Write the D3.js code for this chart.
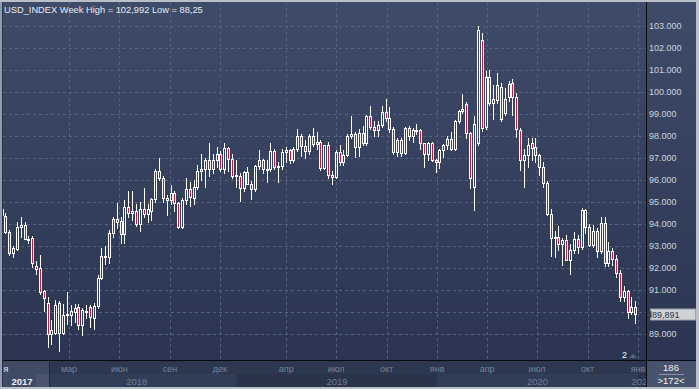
<!DOCTYPE html>
<html>
<head>
<meta charset="utf-8">
<script src="https://cdn.jsdelivr.net/npm/d3@7"></script>
<style>
    html, body { margin: 0; padding: 0; background: #b9c0ca; }
    svg { display: block; font-family: "Liberation Sans", Arial, sans-serif; }
</style>
</head>
<body>
<svg id="chart" width="699" height="389"></svg>
<script>
// Weekly bars (Monday of each week)
const weeks = [
    '2017-10-30','2017-11-06','2017-11-13','2017-11-20','2017-11-27','2017-12-04','2017-12-11','2017-12-18','2017-12-25',
    '2018-01-01','2018-01-08','2018-01-15','2018-01-22','2018-01-29','2018-02-05','2018-02-12','2018-02-19','2018-02-26',
    '2018-03-05','2018-03-12','2018-03-19','2018-03-26','2018-04-02','2018-04-09','2018-04-16','2018-04-23','2018-04-30',
    '2018-05-07','2018-05-14','2018-05-21','2018-05-28','2018-06-04','2018-06-11','2018-06-18','2018-06-25','2018-07-02',
    '2018-07-09','2018-07-16','2018-07-23','2018-07-30','2018-08-06','2018-08-13','2018-08-20','2018-08-27','2018-09-03',
    '2018-09-10','2018-09-17','2018-09-24','2018-10-01','2018-10-08','2018-10-15','2018-10-22','2018-10-29','2018-11-05',
    '2018-11-12','2018-11-19','2018-11-26','2018-12-03','2018-12-10','2018-12-17','2018-12-24','2018-12-31',
    '2019-01-07','2019-01-14','2019-01-21','2019-01-28','2019-02-04','2019-02-11','2019-02-18','2019-02-25','2019-03-04',
    '2019-03-11','2019-03-18','2019-03-25','2019-04-01','2019-04-08','2019-04-15','2019-04-22','2019-04-29','2019-05-06',
    '2019-05-13','2019-05-20','2019-05-27','2019-06-03','2019-06-10','2019-06-17','2019-06-24','2019-07-01','2019-07-08',
    '2019-07-15','2019-07-22','2019-07-29','2019-08-05','2019-08-12','2019-08-19','2019-08-26','2019-09-02','2019-09-09',
    '2019-09-16','2019-09-23','2019-09-30','2019-10-07','2019-10-14','2019-10-21','2019-10-28','2019-11-04','2019-11-11',
    '2019-11-18','2019-11-25','2019-12-02','2019-12-09','2019-12-16','2019-12-23','2019-12-30',
    '2020-01-06','2020-01-13','2020-01-20','2020-01-27','2020-02-03','2020-02-10','2020-02-17','2020-02-24','2020-03-02',
    '2020-03-09','2020-03-16','2020-03-23','2020-03-30','2020-04-06','2020-04-13','2020-04-20','2020-04-27','2020-05-04',
    '2020-05-11','2020-05-18','2020-05-25','2020-06-01','2020-06-08','2020-06-15','2020-06-22','2020-06-29','2020-07-06',
    '2020-07-13','2020-07-20','2020-07-27','2020-08-03','2020-08-10','2020-08-17','2020-08-24','2020-08-31','2020-09-07',
    '2020-09-14','2020-09-21','2020-09-28','2020-10-05','2020-10-12','2020-10-19','2020-10-26','2020-11-02','2020-11-09',
    '2020-11-16','2020-11-23','2020-11-30','2020-12-07','2020-12-14','2020-12-21','2020-12-28'
];

const opens = [
    94.70,94.36,93.65,92.70,92.85,93.88,93.95,93.33,93.35,
    92.10,91.99,90.97,90.40,89.00,89.03,90.39,89.06,89.86,
    89.86,90.01,90.21,89.40,90.00,90.21,89.71,90.27,91.53,
    92.55,92.49,93.58,94.21,94.15,93.55,94.76,94.50,94.60,
    94.00,94.70,94.45,94.60,95.15,96.40,96.10,95.20,95.10,
    95.40,94.95,93.85,95.10,95.60,95.20,95.70,96.40,96.50,
    96.90,96.50,96.90,97.20,96.50,97.45,96.95,96.20,
    96.20,95.65,96.37,95.82,95.58,96.63,96.90,96.52,96.51,
    97.31,96.60,96.62,97.28,97.38,96.92,97.40,98.01,97.53,
    97.33,98.01,97.62,97.75,96.54,97.57,96.21,96.13,97.29,
    96.81,97.15,98.02,98.10,97.50,98.14,97.67,98.92,98.40,
    98.28,98.50,99.11,98.80,98.30,97.28,97.83,97.24,98.35,
    98.00,98.27,98.27,97.68,97.18,97.70,96.90,
    96.84,97.36,97.61,97.87,97.39,98.68,99.12,99.45,98.13,
    95.70,97.70,102.36,98.42,100.67,99.50,99.64,100.24,99.06,
    99.79,100.42,99.76,98.27,96.90,97.14,97.67,97.52,97.14,
    96.60,95.88,94.44,93.35,93.42,93.10,93.25,92.37,92.80,
    93.33,92.94,94.64,93.85,93.06,93.68,92.77,94.04,92.23,
    92.77,92.39,91.79,90.70,90.97,90.02,90.25
];

const highs = [
    94.75,94.50,93.72,92.98,94.10,94.30,94.10,93.45,93.45,
    92.30,92.60,91.00,90.67,89.64,90.55,90.50,90.36,90.93,
    90.30,90.36,90.36,90.20,90.30,90.30,90.40,91.70,92.90,
    93.00,93.73,94.30,94.97,94.30,95.10,95.50,95.50,94.90,
    95.00,95.65,94.90,95.20,96.50,96.98,96.20,95.30,95.75,
    95.50,95.00,95.20,96.10,95.90,96.00,96.70,97.20,97.00,
    97.70,97.20,97.50,97.30,97.70,97.50,97.20,96.90,
    96.30,96.40,96.60,95.95,96.70,97.37,96.95,96.90,97.70,
    97.40,96.80,97.40,97.50,97.40,97.50,98.33,98.10,97.80,
    98.10,98.37,98.20,97.80,97.57,97.72,96.40,97.35,97.60,
    97.37,98.10,98.93,98.20,98.30,98.45,98.95,99.37,98.70,
    98.70,99.38,99.67,99.30,98.40,97.90,97.90,98.40,98.45,
    98.35,98.55,98.30,97.70,97.75,97.75,96.95,
    97.40,97.65,98.00,98.20,98.75,99.20,99.91,99.55,98.20,
    98.90,102.99,102.70,100.95,101.00,100.30,100.88,100.40,100.17,
    100.51,100.60,99.95,98.35,97.40,97.90,97.90,97.90,97.20,
    96.80,95.95,94.70,93.70,93.90,93.35,93.50,93.10,93.65,
    93.50,94.75,94.70,94.00,93.95,93.80,94.30,94.30,93.20,
    92.90,92.60,91.90,91.20,91.00,90.70,90.50
];

const lows = [
    94.30,93.60,92.60,92.49,92.80,93.40,93.30,93.15,92.05,
    91.75,90.80,90.06,88.42,88.55,89.00,88.25,89.00,89.45,
    89.41,89.56,89.25,88.95,89.75,89.30,89.21,90.20,91.50,
    92.20,92.21,93.40,93.80,93.15,93.15,94.30,94.20,93.90,
    93.70,94.30,94.10,94.20,95.00,96.00,95.00,94.40,94.90,
    94.60,93.80,93.80,94.90,94.80,94.90,95.60,96.00,95.70,
    96.20,96.30,96.60,96.40,96.30,96.40,96.10,95.70,
    95.03,95.50,95.80,95.15,95.50,96.50,96.30,95.90,96.40,
    96.50,95.90,96.50,96.80,96.75,96.80,97.30,97.10,97.00,
    97.20,97.55,97.40,96.46,96.50,96.10,95.84,96.10,96.70,
    96.70,97.10,97.90,97.05,97.10,97.60,97.60,98.30,98.00,
    98.00,98.40,98.70,98.20,97.20,97.10,97.10,97.20,97.80,
    97.75,98.10,97.40,96.60,96.90,96.85,96.36,
    96.55,97.05,97.40,97.35,97.35,98.60,99.05,97.90,95.62,
    94.65,97.60,98.25,98.30,99.40,98.77,99.50,98.70,98.95,
    99.60,98.95,97.94,96.45,95.70,96.60,96.90,96.80,96.25,
    95.70,94.40,92.55,92.50,92.80,92.15,92.40,91.75,92.70,
    92.70,92.85,93.60,93.00,92.95,92.50,92.70,92.10,92.10,
    92.15,91.60,90.50,90.50,89.73,89.90,89.50
];

const closes = [
    94.40,93.65,92.70,92.90,93.88,93.95,93.33,93.25,92.24,
    91.97,90.90,90.62,89.00,89.18,90.32,89.06,89.86,89.92,
    90.05,90.17,89.41,90.09,90.05,89.76,90.27,91.53,92.55,
    92.50,93.58,94.21,94.10,93.55,94.76,94.50,94.60,94.00,
    94.70,94.45,94.70,95.15,96.40,96.10,95.20,95.10,95.40,
    94.95,93.85,95.10,95.60,95.25,95.70,96.40,96.50,96.90,
    96.50,96.90,97.20,96.50,97.45,96.95,96.20,96.21,
    95.65,96.37,95.82,95.58,96.63,96.90,96.52,96.51,97.31,
    96.60,96.62,97.28,97.38,96.92,97.40,98.01,97.53,97.33,
    98.01,97.62,97.75,96.54,97.57,96.21,96.13,97.29,96.81,
    97.15,98.02,98.10,97.50,98.14,97.67,98.92,98.40,98.28,
    98.50,99.11,98.80,98.30,97.28,97.83,97.24,98.35,98.00,
    98.27,98.27,97.68,97.18,97.70,96.90,96.84,
    97.36,97.61,97.87,97.39,98.68,99.12,99.25,98.13,96.08,
    98.55,102.82,98.35,100.70,99.49,99.70,100.32,98.76,99.70,
    100.36,99.79,98.30,96.90,97.14,97.59,97.44,97.14,96.60,
    95.88,94.44,93.35,93.42,93.10,93.25,92.37,92.80,93.33,
    92.94,94.64,93.85,93.06,93.68,92.77,94.04,92.23,92.77,
    92.39,91.79,90.70,90.97,90.02,90.25,89.891
];

// Axis ticks
const priceTicks = [89, 90, 91, 92, 93, 94, 95, 96, 97, 98, 99, 100, 101, 102, 103];
const monthTicks = ['2018-03-01','2018-06-01','2018-09-01','2018-12-01','2019-04-01','2019-07-01',
                    '2019-10-01','2020-01-01','2020-04-01','2020-07-01','2020-10-01','2021-01-01'];
const monthLabels = ['мар','июн','сен','дек','апр','июл','окт','янв','апр','июл','окт','янв'];
const years = [2018, 2019, 2020, 2021];

const titleText = 'USD_INDEX Week High = 102,992 Low = 88,25';
const lastPrice = '89,891';

// Layout
const W = 699, H = 389;
const plotL = 3, plotR = 646, plotT = 2, plotB = 360, frameB = 387, frameR = 696;

const parse = d3.timeParse('%Y-%m-%d');
const fmt = d3.format(',.3f');

const x = d3.scaleTime()
    .domain([parse('2018-03-01'), parse('2021-01-01')])
    .range([69, 638]);

const y = d3.scaleLinear()
    .domain([89, 103])
    .range([334, 26]);

const svg = d3.select('#chart');
const defs = svg.append('defs');

const grad = defs.append('linearGradient')
    .attr('id', 'bg').attr('x1', 0).attr('y1', 0).attr('x2', 0).attr('y2', 1);
grad.append('stop').attr('offset', '0%').attr('stop-color', '#3e4b69');
grad.append('stop').attr('offset', '100%').attr('stop-color', '#2b3551');

defs.append('clipPath').attr('id', 'plotClip')
    .append('rect').attr('x', plotL).attr('y', plotT).attr('width', plotR - plotL).attr('height', plotB - plotT);
defs.append('clipPath').attr('id', 'axisClip')
    .append('rect').attr('x', 49).attr('y', plotB).attr('width', plotR - 49).attr('height', frameB - plotB);

// Frame and backgrounds
svg.append('rect').attr('width', W).attr('height', H).attr('fill', '#b9c0ca');
svg.append('rect').attr('x', 0).attr('y', 2).attr('width', 3).attr('height', H - 4).attr('fill', '#8f9bb0');
svg.append('rect')
    .attr('x', plotL).attr('y', plotT)
    .attr('width', frameR - plotL).attr('height', plotB - plotT)
    .attr('fill', 'url(#bg)');

// Grid
const grid = svg.append('g').attr('stroke', '#55637f').attr('stroke-dasharray', '3,3').attr('stroke-width', 1);
grid.selectAll('line.h')
    .data(priceTicks)
    .join('line')
    .attr('x1', plotL).attr('x2', plotR)
    .attr('y1', d => Math.round(y(d)) + 0.5)
    .attr('y2', d => Math.round(y(d)) + 0.5);
grid.selectAll('line.v')
    .data(monthTicks)
    .join('line')
    .attr('x1', d => Math.round(x(parse(d))) + 0.5)
    .attr('x2', d => Math.round(x(parse(d))) + 0.5)
    .attr('y1', plotT).attr('y2', plotB);

// Candles
const bars = weeks.map((w, i) => ({
    date: parse(w), o: opens[i], h: highs[i], l: lows[i], c: closes[i]
}));

const candles = svg.append('g').attr('clip-path', 'url(#plotClip)');
const candle = candles.selectAll('g.candle')
    .data(bars)
    .join('g')
    .attr('class', 'candle');

const geom = d => {
    const cx = Math.floor(x(d.date)) + 0.5;
    const top = Math.round(y(Math.max(d.o, d.c))) + 0.5;
    let bot = Math.round(y(Math.min(d.o, d.c))) + 0.5;
    if (bot - top < 1) bot = top + 1;
    return { cx, top, bot, hi: Math.round(y(d.h)), lo: Math.round(y(d.l)) };
};

candle.append('line')
    .attr('stroke', '#ffffff')
    .attr('x1', d => geom(d).cx).attr('x2', d => geom(d).cx)
    .attr('y1', d => geom(d).hi).attr('y2', d => geom(d).top);
candle.append('line')
    .attr('stroke', '#ffffff')
    .attr('x1', d => geom(d).cx).attr('x2', d => geom(d).cx)
    .attr('y1', d => geom(d).bot).attr('y2', d => geom(d).lo + 1);
candle.append('rect')
    .attr('x', d => geom(d).cx - 1)
    .attr('y', d => geom(d).top)
    .attr('width', 2)
    .attr('height', d => geom(d).bot - geom(d).top)
    .attr('fill', d => d.c < d.o ? '#b0223f' : 'none')
    .attr('stroke', '#ffffff')
    .attr('stroke-width', 1);

// Title
svg.append('text')
    .attr('x', 4).attr('y', 12.5)
    .attr('font-size', 9.3)
    .attr('fill', '#e8ecf2')
    .text(titleText);

// Price axis labels (the one under the last-price marker is hidden, as in the original)
const lastY = Math.round(y(closes[closes.length - 1])) + 0.5;
svg.append('g').selectAll('text')
    .data(priceTicks.filter(d => Math.abs(y(d) - lastY) > 9))
    .join('text')
    .attr('x', 649)
    .attr('y', d => y(d) + 3.3)
    .attr('font-size', 9)
    .attr('fill', '#cdd4de')
    .text(d => fmt(d));

// Last price marker
svg.append('rect')
    .attr('x', 650.5).attr('y', lastY - 5.5)
    .attr('width', 45).attr('height', 11)
    .attr('fill', '#cfd3d8').attr('stroke', '#9aa1ab');
svg.append('path')
    .attr('d', `M647,${lastY} L651.5,${lastY - 4} L651.5,${lastY + 4} Z`)
    .attr('fill', '#3b4353');
svg.append('text')
    .attr('x', 652).attr('y', lastY + 3.5)
    .attr('font-size', 9)
    .attr('fill', '#2a3242')
    .text(lastPrice);

// Bottom time axis
const axisG = svg.append('g');
axisG.append('rect')
    .attr('x', plotL).attr('y', plotB).attr('width', plotR - plotL).attr('height', frameB - plotB)
    .attr('fill', '#2c3750');

const yearBand = yr => [x(new Date(yr, 0, 1)), x(new Date(yr + 1, 0, 1))];
axisG.append('g').attr('clip-path', 'url(#axisClip)')
    .selectAll('rect')
    .data(years)
    .join('rect')
    .attr('x', d => yearBand(d)[0])
    .attr('y', 374)
    .attr('width', d => yearBand(d)[1] - yearBand(d)[0])
    .attr('height', frameB - 374)
    .attr('fill', (d, i) => i % 2 === 0 ? '#313d57' : '#29344b');

axisG.selectAll('text.month')
    .data(monthTicks)
    .join('text')
    .attr('class', 'month')
    .attr('x', d => x(parse(d)))
    .attr('y', 372)
    .attr('text-anchor', 'middle')
    .attr('font-size', 9)
    .attr('fill', '#76829b')
    .text((d, i) => monthLabels[i]);

axisG.append('g').attr('clip-path', 'url(#axisClip)')
    .selectAll('text')
    .data(years)
    .join('text')
    .attr('x', d => Math.min((yearBand(d)[0] + yearBand(d)[1]) / 2, 642))
    .attr('y', 384.5)
    .attr('text-anchor', 'middle')
    .attr('font-size', 9.5)
    .attr('fill', '#6f7b93')
    .text(d => d);

// Sticky left label (2017)
axisG.append('rect').attr('x', plotL).attr('y', plotB).attr('width', 46).attr('height', frameB - plotB).attr('fill', '#3f4b64');
axisG.append('rect').attr('x', 36).attr('y', 374).attr('width', 13).attr('height', frameB - 374).attr('fill', '#4a566f');
axisG.append('line').attr('x1', 49.5).attr('x2', 49.5).attr('y1', plotB).attr('y2', frameB).attr('stroke', '#1f2738');
axisG.append('text').attr('x', 3.5).attr('y', 372).attr('font-size', 9).attr('fill', '#e4e8ee').text('я');
axisG.append('text').attr('x', 22).attr('y', 384.5).attr('text-anchor', 'middle')
    .attr('font-size', 9.5).attr('font-weight', 'bold').attr('fill', '#eef1f5').text('2017');

// Bottom-right counter panel
svg.append('rect').attr('x', plotR).attr('y', plotB).attr('width', frameR - plotR).attr('height', frameB - plotB).attr('fill', '#47536c');
svg.append('text').attr('x', 671).attr('y', 371).attr('text-anchor', 'middle')
    .attr('font-size', 9.5).attr('fill', '#f2f4f7').text('186');
svg.append('line').attr('x1', 659).attr('x2', 684).attr('y1', 374.5).attr('y2', 374.5).attr('stroke', '#8c96a8');
svg.append('text').attr('x', 671).attr('y', 384).attr('text-anchor', 'middle')
    .attr('font-size', 9.5).attr('fill', '#f2f4f7').text('>172<');

// Small marker near the end
svg.append('text').attr('x', 624.5).attr('y', 358).attr('text-anchor', 'middle')
    .attr('font-size', 9).attr('fill', '#f2f4f7').text('2');
svg.append('path').attr('d', 'M629,358 L633,354 L637,358 Z').attr('fill', '#5b6782');

// Separators
svg.append('line').attr('x1', plotL).attr('x2', frameR).attr('y1', plotB + 0.5).attr('y2', plotB + 0.5).attr('stroke', '#06090f');
svg.append('line').attr('x1', plotR + 0.5).attr('x2', plotR + 0.5).attr('y1', plotT).attr('y2', frameB).attr('stroke', '#06090f');
svg.append('line').attr('x1', plotL - 0.5).attr('x2', plotL - 0.5).attr('y1', plotT).attr('y2', frameB).attr('stroke', '#2a3348');
</script>
</body>
</html>
